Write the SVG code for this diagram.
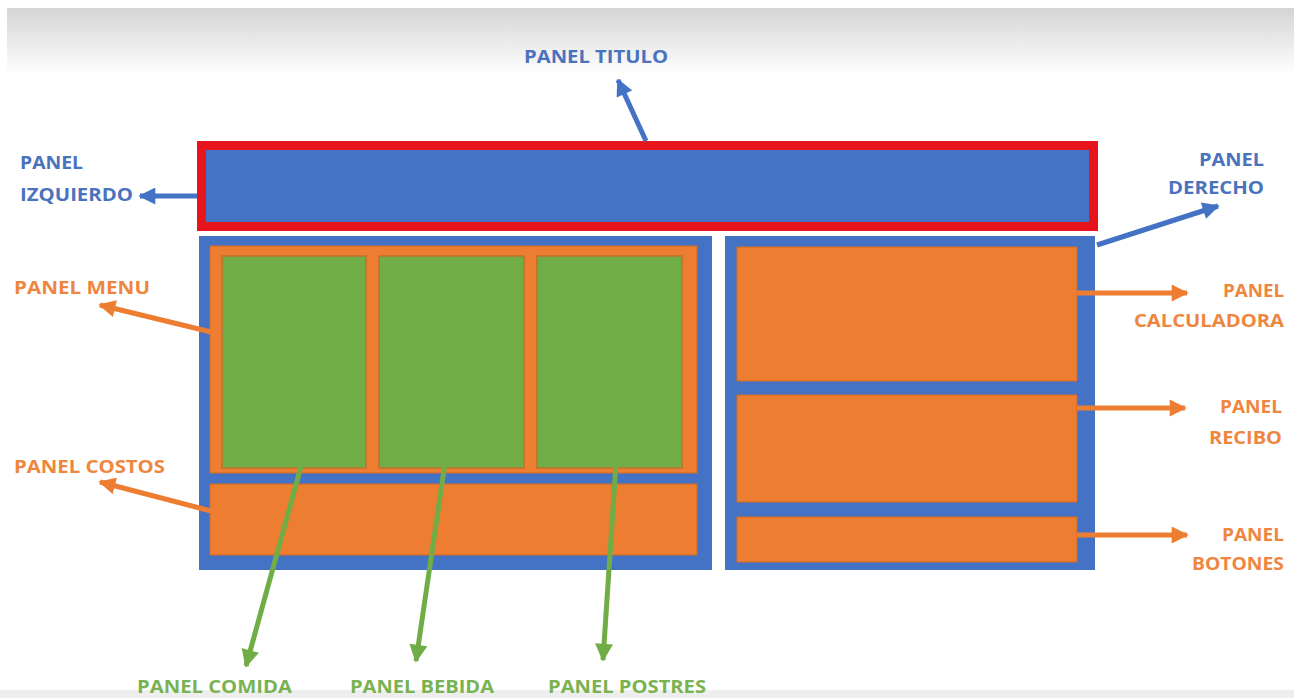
<svg xmlns="http://www.w3.org/2000/svg" width="1294" height="698" viewBox="0 0 1294 698">
<defs>
<linearGradient id="topg" x1="0" y1="0" x2="0" y2="1">
<stop offset="0" stop-color="#d4d4d4"/>
<stop offset="1" stop-color="#ffffff"/>
</linearGradient>
<marker id="ab" viewBox="0 0 10 10" refX="9" refY="5" markerWidth="19" markerHeight="17" markerUnits="userSpaceOnUse" orient="auto"><path d="M0,0 L10,5 L0,10 Z" fill="#4472c4"/></marker>
<marker id="ao" viewBox="0 0 10 10" refX="9" refY="5" markerWidth="19" markerHeight="17" markerUnits="userSpaceOnUse" orient="auto"><path d="M0,0 L10,5 L0,10 Z" fill="#ed7d31"/></marker>
<marker id="ag" viewBox="0 0 10 10" refX="9" refY="5" markerWidth="21" markerHeight="18" markerUnits="userSpaceOnUse" orient="auto"><path d="M0,0 L10,5 L0,10 Z" fill="#70ad47"/></marker>
<style>
.lbl{font-family:"Open Sans","Liberation Sans",sans-serif;font-weight:bold;font-size:17px}
.b{fill:#4a72bd}.o{fill:#ee8640}.g{fill:#79b251}
.blue{fill:#4472c4}
.or{fill:#ed7d31;stroke:#d56a22;stroke-width:1}
.gr{fill:#70ad47;stroke:#c0702a;stroke-width:1.5}
.cb{stroke:#4472c4;stroke-width:5;fill:none}
.co{stroke:#ed7d31;stroke-width:5;fill:none}
.cg{stroke:#70ad47;stroke-width:5;fill:none}
</style>
</defs>
<rect x="0" y="0" width="1294" height="698" fill="#ffffff"/>
<rect x="7" y="8" width="1287" height="66" fill="url(#topg)"/>
<rect x="0" y="690" width="1294" height="8" fill="#eeeeee"/>

<g id="panel-titulo">
<rect x="201.5" y="145.5" width="892" height="81" fill="#4472c4" stroke="#e8141b" stroke-width="9"/>
</g>
<g id="panel-izq-contenedor">
<rect x="199" y="236" width="513" height="334" class="blue"/>
</g>
<g id="panel-menu">
<rect x="210" y="246" width="487" height="227" class="or"/>
</g>
<g id="panel-comida"><rect x="222" y="256" width="144" height="212" class="gr"/></g>
<g id="panel-bebida"><rect x="379" y="256" width="145" height="212" class="gr"/></g>
<g id="panel-postres"><rect x="537" y="256" width="145" height="212" class="gr"/></g>
<g id="panel-costos"><rect x="210" y="484" width="487" height="71" class="or"/></g>
<g id="panel-derecho">
<rect x="725" y="236" width="370" height="334" class="blue"/>
</g>
<g id="panel-calculadora"><rect x="737" y="247" width="340" height="134" class="or"/></g>
<g id="panel-recibo"><rect x="737" y="395" width="340" height="107" class="or"/></g>
<g id="panel-botones"><rect x="737" y="517" width="340" height="45" class="or"/></g>

<g id="connectors">
<line x1="646" y1="141" x2="618" y2="80" class="cb" marker-end="url(#ab)"/>
<line x1="197" y1="196" x2="140" y2="196" class="cb" marker-end="url(#ab)"/>
<line x1="1097" y1="245" x2="1218" y2="206" class="cb" marker-end="url(#ab)"/>
<line x1="211" y1="332" x2="100" y2="305" class="co" marker-end="url(#ao)"/>
<line x1="211" y1="511" x2="100" y2="482" class="co" marker-end="url(#ao)"/>
<line x1="1077" y1="293" x2="1187" y2="293" class="co" marker-end="url(#ao)"/>
<line x1="1077" y1="408" x2="1185" y2="408" class="co" marker-end="url(#ao)"/>
<line x1="1077" y1="535" x2="1187" y2="535" class="co" marker-end="url(#ao)"/>
<line x1="302" y1="463" x2="246" y2="666" class="cg" marker-end="url(#ag)"/>
<line x1="445" y1="463" x2="416" y2="661" class="cg" marker-end="url(#ag)"/>
<line x1="616" y1="463" x2="603" y2="660" class="cg" marker-end="url(#ag)"/>
</g>

<g id="labels">
<text class="lbl b" x="524" y="63" textLength="144" lengthAdjust="spacingAndGlyphs">PANEL TITULO</text>
<text class="lbl b" x="20" y="169" textLength="63" lengthAdjust="spacingAndGlyphs">PANEL</text>
<text class="lbl b" x="20" y="201" textLength="113" lengthAdjust="spacingAndGlyphs">IZQUIERDO</text>
<text class="lbl b" x="1199" y="166" textLength="65" lengthAdjust="spacingAndGlyphs">PANEL</text>
<text class="lbl b" x="1168" y="194" textLength="96" lengthAdjust="spacingAndGlyphs">DERECHO</text>
<text class="lbl o" x="14" y="294" textLength="136" lengthAdjust="spacingAndGlyphs">PANEL MENU</text>
<text class="lbl o" x="14" y="473" textLength="151" lengthAdjust="spacingAndGlyphs">PANEL COSTOS</text>
<text class="lbl o" x="1223" y="297" textLength="61" lengthAdjust="spacingAndGlyphs">PANEL</text>
<text class="lbl o" x="1134" y="327" textLength="150" lengthAdjust="spacingAndGlyphs">CALCULADORA</text>
<text class="lbl o" x="1220" y="413" textLength="62" lengthAdjust="spacingAndGlyphs">PANEL</text>
<text class="lbl o" x="1209" y="444" textLength="73" lengthAdjust="spacingAndGlyphs">RECIBO</text>
<text class="lbl o" x="1222" y="541" textLength="62" lengthAdjust="spacingAndGlyphs">PANEL</text>
<text class="lbl o" x="1192" y="570" textLength="92" lengthAdjust="spacingAndGlyphs">BOTONES</text>
<text class="lbl g" x="137" y="693" textLength="155" lengthAdjust="spacingAndGlyphs">PANEL COMIDA</text>
<text class="lbl g" x="350" y="693" textLength="144" lengthAdjust="spacingAndGlyphs">PANEL BEBIDA</text>
<text class="lbl g" x="548" y="693" textLength="158" lengthAdjust="spacingAndGlyphs">PANEL POSTRES</text>
</g>
</svg>
